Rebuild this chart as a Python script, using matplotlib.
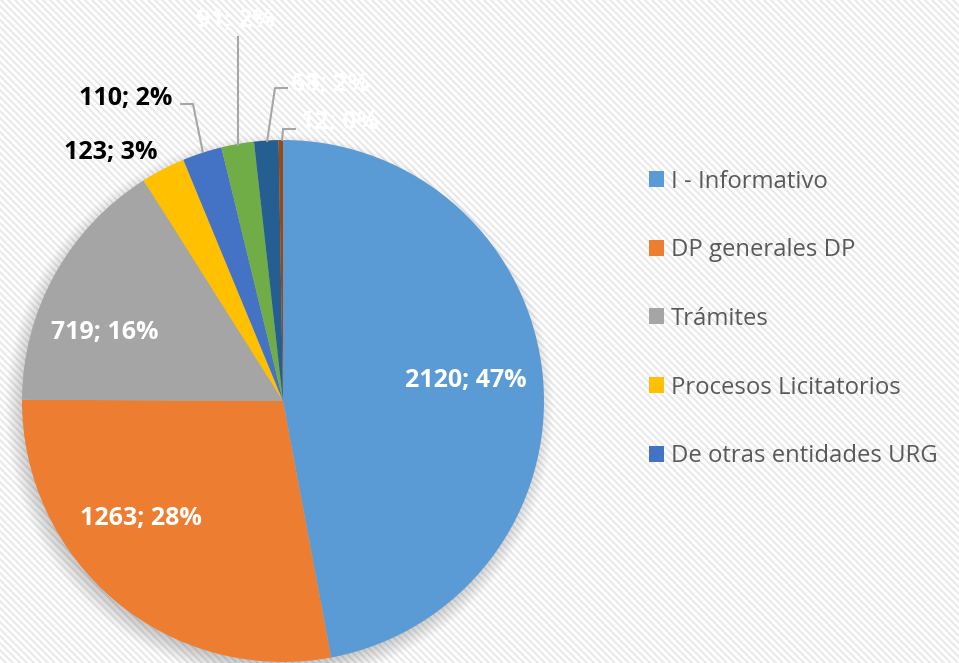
import matplotlib
matplotlib.use("Agg")
import matplotlib.pyplot as plt
import numpy as np
from matplotlib.patches import Patch

# data
categories = ["I - Informativo", "DP generales DP", "Trámites", "Procesos Licitatorios",
              "De otras entidades URG", "Otros 1", "Otros 2", "Otros 3"]
values = [2120, 1263, 719, 123, 110, 91, 68, 12]
colors = ["#5B9BD5", "#ED7D31", "#A5A5A5", "#FFC000", "#4472C4", "#70AD47", "#255E91", "#9E480E"]
legend_count = 5  # the legend box only shows the first five entries

# layout (pixel units, y down as in the picture)
W, H = 959, 663
cx, cy, R = 283, H - 401, 261
label_pos = [(466, 380), (141, 518), (105, 332), (158, 152), (172, 98),
             (236, 20), (291, 84), (300, 122)]
label_ha = ["center", "center", "center", "right", "right", "center", "left", "left"]
label_col = ["white", "white", "white", "black", "black", "white", "white", "white"]
leaders = {
    4: [(180, 104), (193, 104), (203, 153)],
    5: [(238, 36), (238, 146)],
    6: [(288, 88), (275, 88), (267, 142)],
    7: [(296, 129), (283, 129), (282, 141)],
}

plt.rcParams['font.family'] = ['Open Sans', 'DejaVu Sans']

fig = plt.figure(figsize=(W / 100, H / 100), dpi=100)

# striped background
yy, xx = np.mgrid[0:H, 0:W]
stripe = ((xx - yy) % 7) < 3
bg = np.where(stripe, 0.92, 1.0)
bg_rgb = np.dstack([bg, bg, bg])
fig.figimage(bg_rgb, 0, 0, zorder=-5)

ax = fig.add_axes([0, 0, 1, 1])
ax.patch.set_visible(False)

# soft shadow under the pie
d = np.hypot(xx - (cx - 4), (H - 1 - yy) - (cy - 8))
blur = 14
sh_alpha = np.clip((R + blur - d) / (2 * blur), 0, 1) * 0.28
shadow = np.zeros((H, W, 4))
shadow[..., 3] = sh_alpha
ax.imshow(shadow, extent=[0, W, 0, H], origin="upper", zorder=1, interpolation="bilinear")

wedges, _ = ax.pie(values, colors=colors, startangle=90, counterclock=False,
                   center=(cx, cy), radius=R, wedgeprops=dict(linewidth=0))
for w in wedges:
    w.set_zorder(2)

total = sum(values)
for i, v in enumerate(values):
    px, py = label_pos[i]
    ax.text(px, H - py, f"{v}; {round(100 * v / total)}%", color=label_col[i],
            ha=label_ha[i], va="center", fontsize=18, fontweight="bold", zorder=5)

for i, pts in leaders.items():
    xs = [p[0] for p in pts]
    ys = [H - p[1] for p in pts]
    ax.plot(xs, ys, color="#A6A6A6", lw=1.5, zorder=4, solid_capstyle="butt")

ax.set_xlim(0, W)
ax.set_ylim(0, H)
ax.set_aspect("equal")
ax.axis("off")

handles = [Patch(facecolor=colors[i], edgecolor="none") for i in range(legend_count)]
leg = fig.legend(handles, categories[:legend_count], loc="upper left",
                 bbox_to_anchor=(627 / W, 1 - 148 / H), frameon=False,
                 fontsize=17.2, labelcolor="#595959", handlelength=0.65, handleheight=0.65,
                 handletextpad=0.3, labelspacing=1.87)

fig.savefig("out.png", dpi=100)
